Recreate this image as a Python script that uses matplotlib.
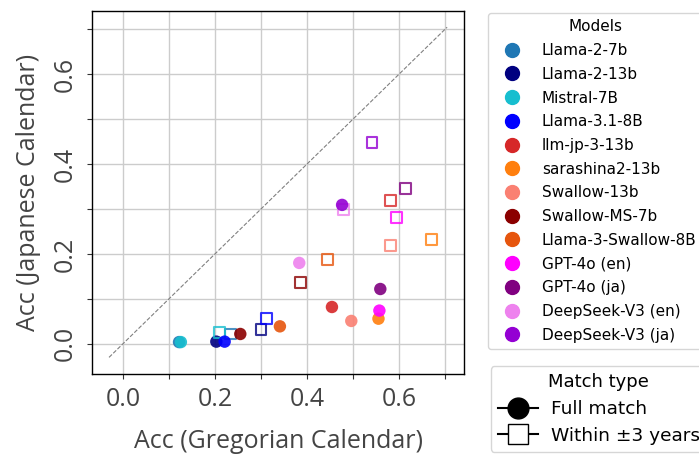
import matplotlib
matplotlib.use("Agg")
import matplotlib.pyplot as plt
from matplotlib.lines import Line2D
from matplotlib.ticker import MultipleLocator

models = ["Llama-2-7b", "Llama-2-13b", "Mistral-7B", "Llama-3.1-8B", "llm-jp-3-13b",
          "sarashina2-13b", "Swallow-13b", "Swallow-MS-7b", "Llama-3-Swallow-8B",
          "GPT-4o (en)", "GPT-4o (ja)", "DeepSeek-V3 (en)", "DeepSeek-V3 (ja)"]
colors = ["#1f77b4", "#000080", "#17becf", "#0000ff", "#d62728", "#ff7f0e", "#fa8072",
          "#8b0000", "#e6550d", "#ff00ff", "#800080", "#ee82ee", "#9400d3"]

# Full match (Gregorian, Japanese)
full_greg = [0.122, 0.203, 0.126, 0.221, 0.454, 0.555, 0.496, 0.255, 0.341, 0.557, 0.559, 0.383, 0.476]
full_jap = [0.004, 0.005, 0.004, 0.005, 0.082, 0.056, 0.051, 0.022, 0.039, 0.074, 0.122, 0.180, 0.309]
# Within +-3 years
near_greg = [0.233, 0.300, 0.210, 0.312, 0.582, 0.671, 0.582, 0.385, 0.445, 0.594, 0.613, 0.479, 0.541]
near_jap = [0.022, 0.032, 0.025, 0.057, 0.319, 0.232, 0.219, 0.136, 0.187, 0.282, 0.346, 0.299, 0.447]

diag = [-0.03, 0.704]
axis_lim = [-0.067, 0.741]

fig = plt.figure(figsize=(6.99, 4.55), dpi=100)
ax = fig.add_axes([0.1316, 0.178, 0.5324, 0.7987])

ax.plot(diag, diag, ls="--", color="gray", lw=0.8, zorder=1)
for i, m in enumerate(models):
    ax.scatter(full_greg[i], full_jap[i], s=80, color=colors[i], alpha=0.9,
               marker="o", edgecolors="none", zorder=3)
    ax.scatter(near_greg[i], near_jap[i], s=62, facecolors="none", edgecolors=colors[i],
               alpha=0.8, marker="s", linewidths=1.5, zorder=3)

ax.set_xlim(axis_lim)
ax.set_ylim(axis_lim)
for a in (ax.xaxis, ax.yaxis):
    a.set_major_locator(MultipleLocator(0.2))
    a.set_minor_locator(MultipleLocator(0.1))
ax.grid(True, which="both", color="#cccccc", lw=1.0, zorder=0)
ax.set_axisbelow(True)
ax.tick_params(which="both", length=3.5, width=0.8, color="#333333")
ax.tick_params(axis="x", which="major", pad=6)
ax.tick_params(axis="y", which="major", pad=7)
for lab in ax.get_xticklabels() + ax.get_yticklabels():
    lab.set_fontfamily("Open Sans")
    lab.set_fontsize(18)
    lab.set_color("#444444")
for lab in ax.get_yticklabels():
    lab.set_rotation(90)
    lab.set_verticalalignment("center")
ax.set_xlabel("Acc (Gregorian Calendar)", fontsize=18, family="Open Sans", color="#444444",
              labelpad=12)
ax.set_ylabel("Acc (Japanese Calendar)", fontsize=18, family="Open Sans", color="#444444",
              labelpad=8.5)
for s in ax.spines.values():
    s.set_color("black")
    s.set_linewidth(1.0)

model_handles = [Line2D([0], [0], marker="o", color="w", markerfacecolor=c,
                        markeredgecolor=c, markersize=10, linestyle="") for c in colors]
leg1 = fig.legend(model_handles, models, title="Models", loc="upper left",
                  bbox_to_anchor=(488.3 / 699, 1 - 13.3 / 455), bbox_transform=fig.transFigure,
                  borderaxespad=0, fontsize=11, title_fontsize=11, labelspacing=0.57,
                  handlelength=2.27, handletextpad=0.83, borderpad=0.4)
match_handles = [Line2D([0], [0], marker="o", color="black", markerfacecolor="black",
                        markersize=15, lw=1.5),
                 Line2D([0], [0], marker="s", color="black", markerfacecolor="white",
                        markersize=14, lw=1.5)]
leg2 = fig.legend(match_handles, ["Full match", "Within \u00b13 years"], title="Match type",
                  loc="upper left", bbox_to_anchor=(490.7 / 699, 1 - 366 / 455),
                  bbox_transform=fig.transFigure, borderaxespad=0, fontsize=13.3,
                  title_fontsize=13, handlelength=2.15, labelspacing=0.47,
                  borderpad=0.4, handletextpad=0.7)

fig.savefig("out.png", dpi=100)
